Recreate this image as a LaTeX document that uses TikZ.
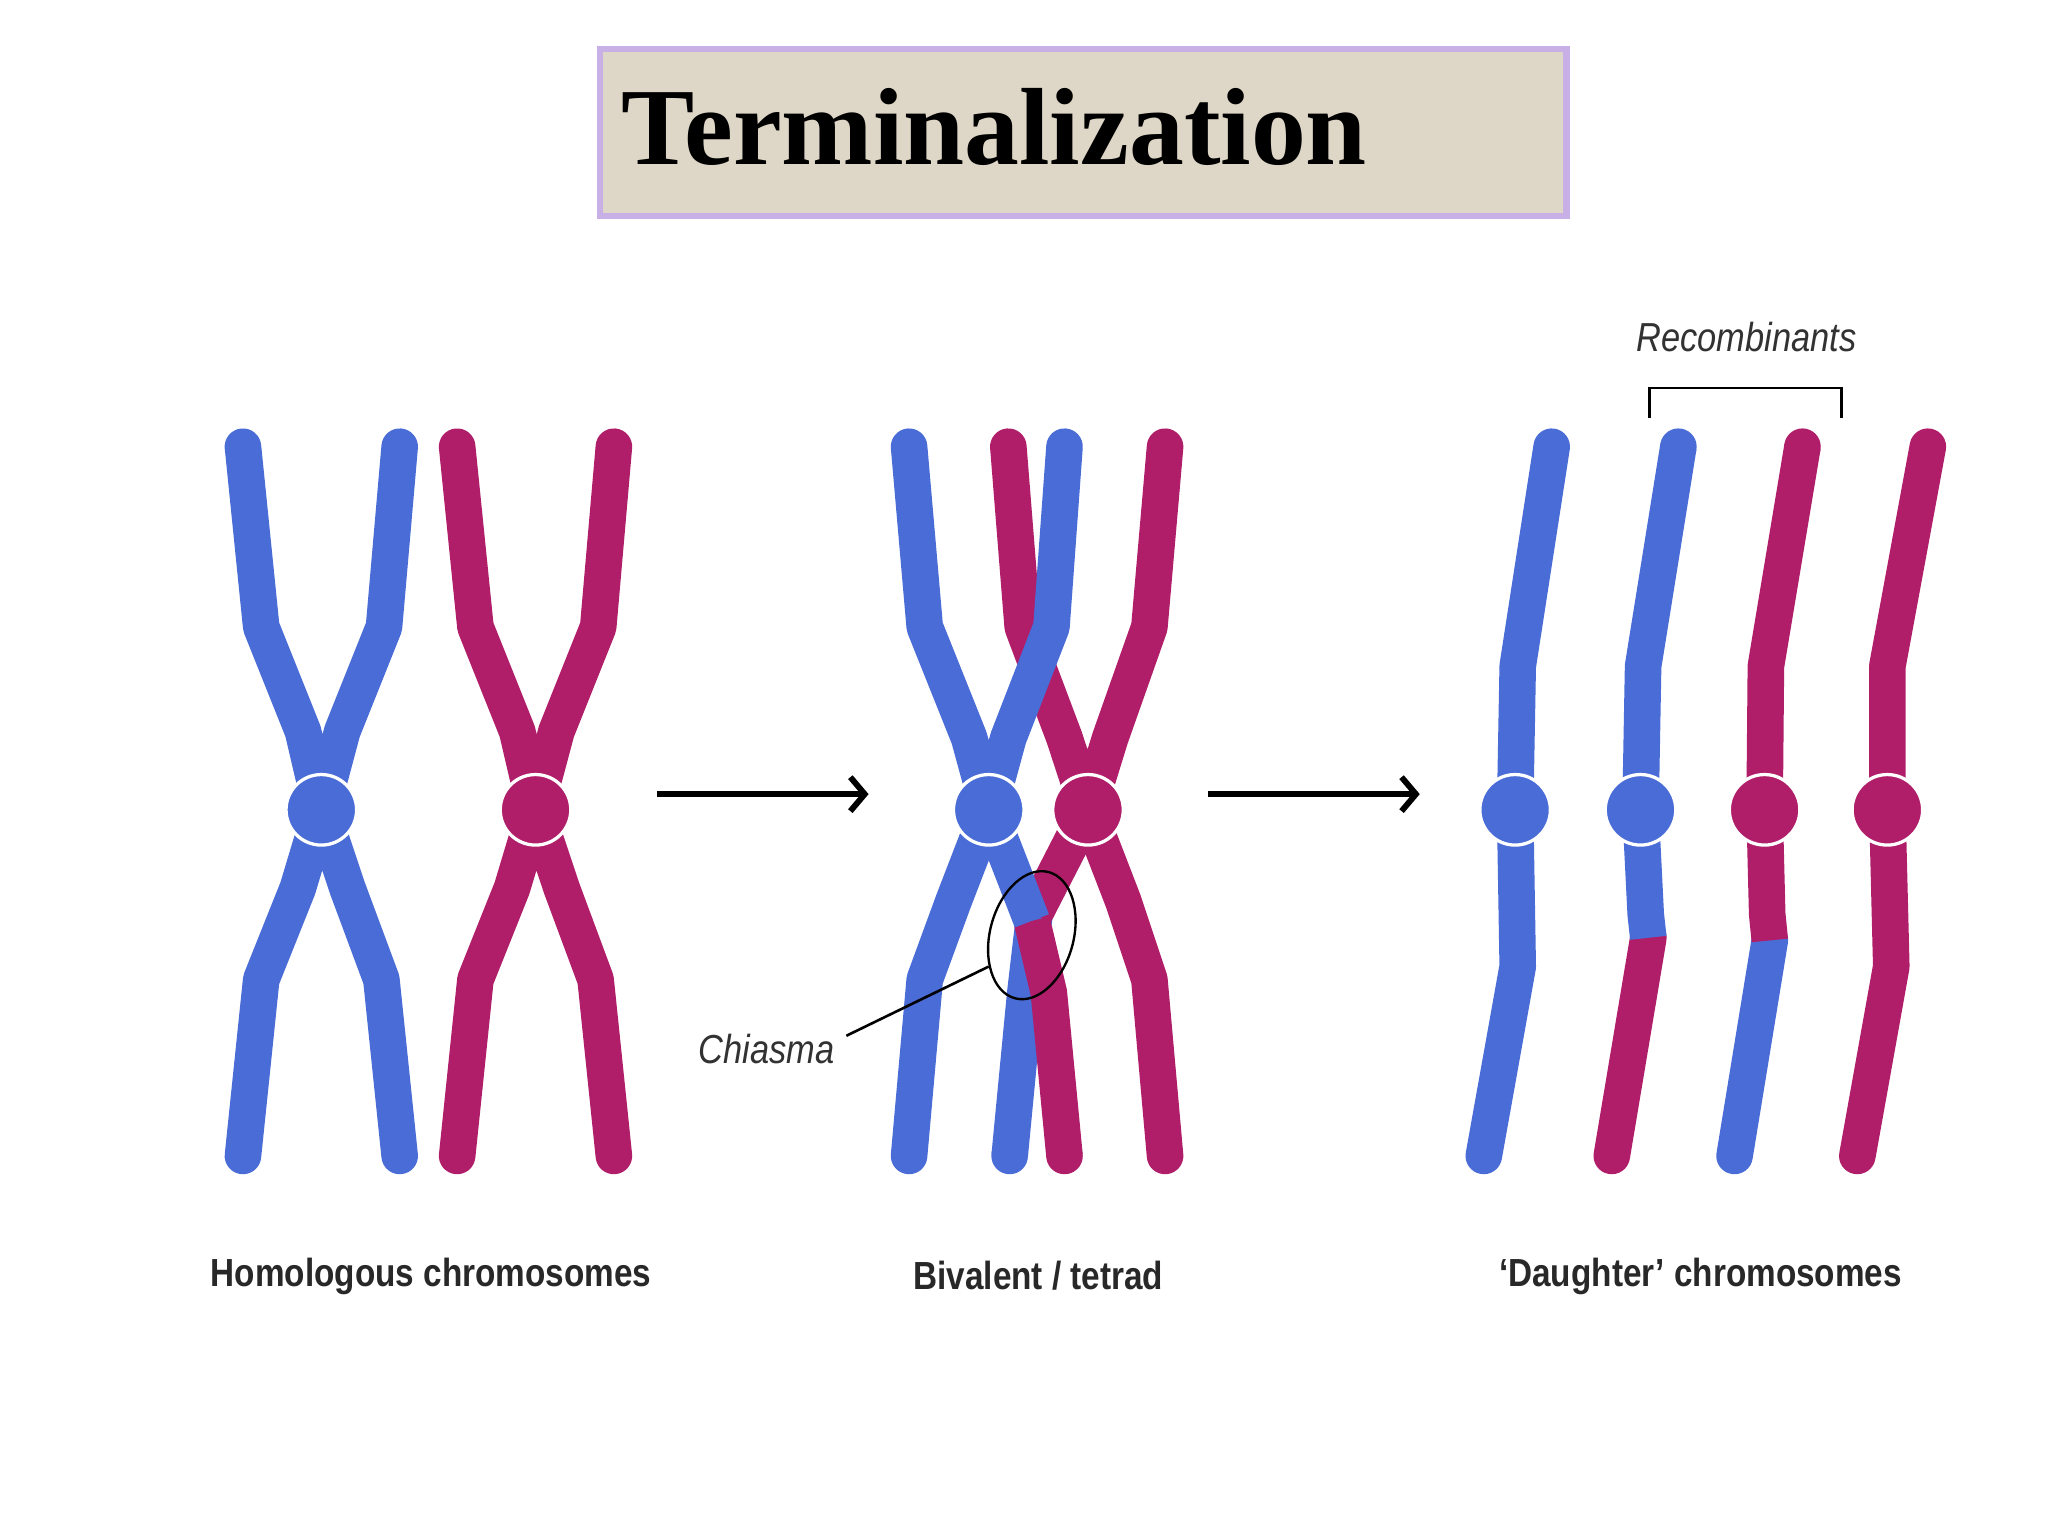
\documentclass[tikz,border=0pt]{standalone}
\usepackage{fontspec}
\setmainfont{Liberation Serif}
\setsansfont{Liberation Sans}
\usetikzlibrary{arrows.meta}
\definecolor{cblue}{RGB}{74,108,214}
\definecolor{cmag}{RGB}{176,30,106}
\begin{document}
\begin{tikzpicture}[x=1pt,y=-1pt,
  bl/.style={line width=28pt,line cap=round,line join=round,draw=cblue},
  mg/.style={line width=28pt,line cap=round,line join=round,draw=cmag},
  butt/.style={line cap=butt},
  cenb/.style={circle,minimum size=54pt,inner sep=0pt,fill=cblue,draw=white,line width=2.5pt},
  cenm/.style={circle,minimum size=54pt,inner sep=0pt,fill=cmag,draw=white,line width=2.5pt},
  lab/.style={font=\sffamily\bfseries\fontsize{30}{34}\selectfont,xscale=0.85,text={rgb,255:red,40;green,40;blue,40}},
  ital/.style={font=\sffamily\itshape\fontsize{31}{34}\selectfont,xscale=0.85,text={rgb,255:red,50;green,50;blue,50}},
  arr/.style={line width=4.5pt,-{Straight Barb[length=11pt,width=26pt,line width=4.5pt]}}]
\useasboundingbox (0,0) rectangle (1568,1176);
\fill[white] (0,0) rectangle (1568,1176);
% title
\node[draw={rgb,255:red,200;green,175;blue,230},line width=5pt,fill={rgb,255:red,222;green,214;blue,198},minimum width=740pt,minimum height=128pt,anchor=north west] (tb) at (457,35) {};
\node[font=\bfseries\fontsize{84}{86}\selectfont,anchor=west] (title) at (472,97) {Terminalization};
% X1 blue
\draw[bl] (186,342)--(200,480)--(232,560)--(246,620)--(262,560)--(294,480)--(306,342);
\draw[bl] (186,885)--(200,750)--(228,680)--(246,620)--(266,680)--(292,750)--(306,885);
\node[cenb] (c1) at (246,620) {};
% X2 magenta
\draw[mg] (350,342)--(364,480)--(396,560)--(410,620)--(426,560)--(458,480)--(470,342);
\draw[mg] (350,885)--(364,750)--(392,680)--(410,620)--(430,680)--(456,750)--(470,885);
\node[cenm] (c2) at (410,620) {};
% arrows
\coordinate (a1s) at (503,608); \coordinate (a1e) at (665,608);
\coordinate (a2s) at (925,608); \coordinate (a2e) at (1087,608);
\draw[arr] (a1s)--(a1e);
\draw[arr] (a2s)--(a2e);
% bivalent
\draw[mg] (772,342)--(783,480)--(815,565)--(833,620)--(850,565)--(880,480)--(892,342);
\draw[mg] (833,620)--(860,690)--(880,750)--(892,885);
\draw[bl] (696,342)--(708,480)--(742,565)--(757,620)--(772,565)--(805,480)--(815,342);
\draw[bl] (757,620)--(730,690)--(708,750)--(696,885);
\draw[bl,butt] (792,700)--(785,760)--(773,885);
\fill[cblue] (773,885) circle (14);
\draw[mg,butt] (833,620)--(792,700);
\draw[mg,butt] (790,705)--(803,760)--(815,885);
\fill[cmag] (815,885) circle (14);
\draw[bl,butt] (757,620)--(790,705);
\node[cenb] (c3) at (757,620) {};
\node[cenm] (c4) at (833,620) {};
\draw[line width=1.8pt,rotate around={-15:(790,716)}] (790,716) ellipse (32 and 50);
\coordinate (ch) at (757,740);
\node[ital] (chl) at (587,803) {Chiasma};
\draw[line width=2pt] (ch)--(648,793);
% daughters
\draw[bl] (1188,342)--(1162,510)--(1160,620)--(1162,740)--(1136,885);
\node[cenb] (d1) at (1160,620) {};
\draw[mg] (1262,718)--(1234,885);
\draw[bl,butt] (1285,342)--(1258,510)--(1256,620)--(1260,700)--(1262,718);
\fill[cblue] (1285,342) circle (14);
\node[cenb] (d2) at (1256,620) {};
\draw[bl] (1355,720)--(1328,885);
\draw[mg,butt] (1380,342)--(1352,510)--(1351,620)--(1353,700)--(1355,720);
\fill[cmag] (1380,342) circle (14);
\node[cenm] (d3) at (1351,620) {};
\draw[mg] (1476,342)--(1445,510)--(1445,620)--(1448,740)--(1422,885);
\node[cenm] (d4) at (1445,620) {};
% bracket
\draw[line width=2pt] (1263,320)--(1263,297)--(1410,297)--(1410,320);
\node[ital] (rec) at (1337,258) {Recombinants};
% labels
\node[lab] (l1) at (330,977) {Homologous chromosomes};
\node[lab] (l2) at (795,977) {Bivalent / tetrad};
\node[lab] (l3) at (1302,977) {‘Daughter’ chromosomes};
\end{tikzpicture}
\end{document}
